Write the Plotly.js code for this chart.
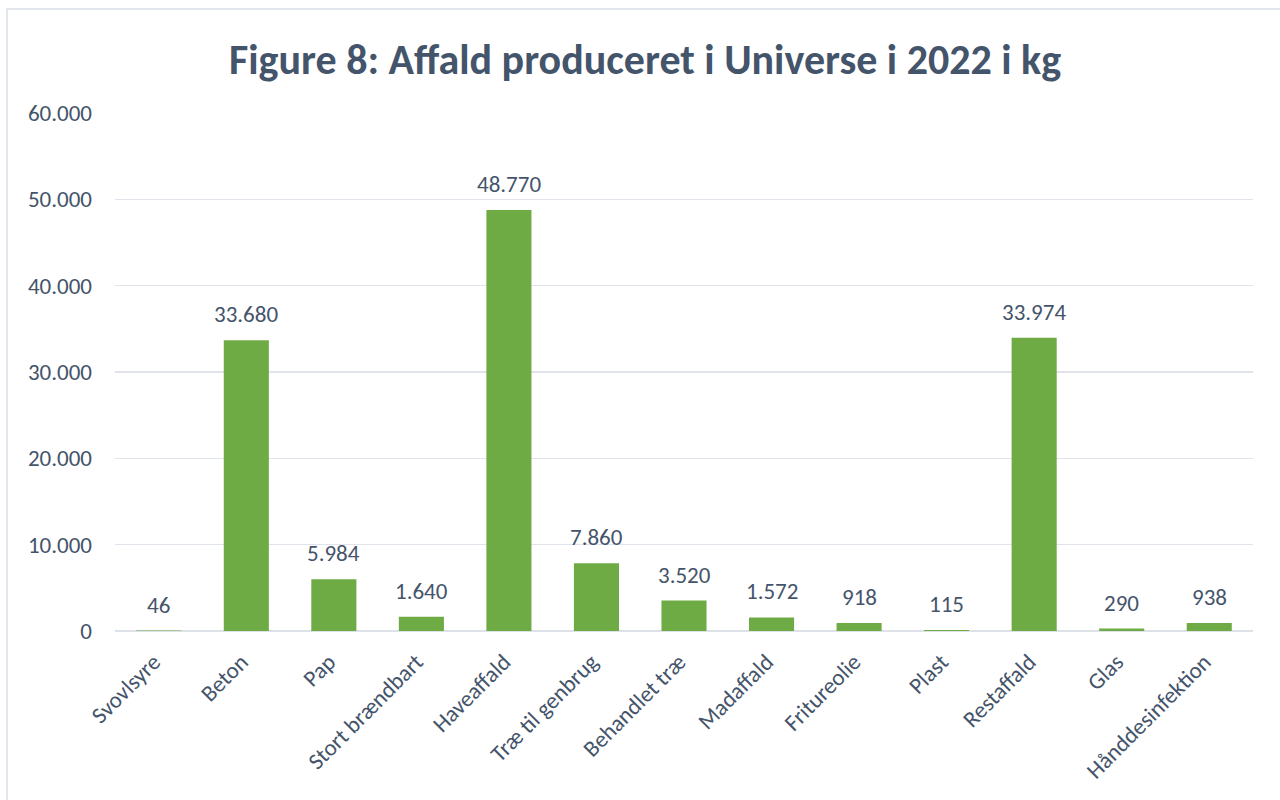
<!DOCTYPE html>
<html>
<head>
<meta charset="utf-8">
<script src="https://cdn.plot.ly/plotly-3.0.1.min.js"></script>
<style>
  html, body { margin: 0; padding: 0; background: #fff; }
  #wrap { position: relative; width: 1280px; height: 800px; overflow: hidden; }
  #frame { position: absolute; left: 6px; top: 8px; width: 1300px; height: 820px;
           border-left: 2px solid #e2e6ec; border-top: 2px solid #e2e6ec; pointer-events: none; }
  #chart { position: absolute; left: 0; top: 0; width: 1280px; height: 800px; }
</style>
</head>
<body>
<div id="wrap">
  <div id="chart"></div>
  <div id="frame"></div>
</div>
<script>
const categories = ["Svovlsyre", "Beton", "Pap", "Stort brændbart", "Haveaffald",
  "Træ til genbrug", "Behandlet træ", "Madaffald", "Fritureolie", "Plast",
  "Restaffald", "Glas", "Hånddesinfektion"];
const values = [46, 33680, 5984, 1640, 48770, 7860, 3520, 1572, 918, 115, 33974, 290, 938];
const titleText = "Figure 8: Affald produceret i Universe i 2022 i kg";

const textColor = "#44546a";
const fontFam = "Carlito, Calibri, Lato, sans-serif";

function fmt(v) {
  return String(v).replace(/\B(?=(\d{3})+(?!\d))/g, ".");
}

const trace = {
  type: "bar",
  x: categories,
  y: values,
  marker: { color: "#6fab45" },
  hoverinfo: "x+y"
};

const labels = categories.map((c, i) => ({
  x: c,
  y: values[i],
  xref: "x",
  yref: "y",
  text: fmt(values[i]),
  showarrow: false,
  yanchor: "bottom",
  yshift: 10,
  font: { family: fontFam, size: 23, color: textColor }
}));

const layout = {
  width: 1280,
  height: 800,
  margin: { l: 115, r: 27, t: 113, b: 169 },
  paper_bgcolor: "rgba(0,0,0,0)",
  plot_bgcolor: "rgba(0,0,0,0)",
  separators: ",.",
  showlegend: false,
  bargap: 0.485,
  annotations: labels,
  title: {
    text: "<b>" + titleText + "</b>",
    font: { family: fontFam, size: 42, color: textColor },
    x: 0.504, xanchor: "center",
    y: 0.926, yanchor: "middle"
  },
  xaxis: {
    type: "category",
    tickangle: -45,
    tickfont: { family: fontFam, size: 23, color: textColor },
    showgrid: false,
    showline: false,
    ticks: "",
    zeroline: false,
    ticklabelstandoff: 12,
    ticklabelshift: -5
  },
  yaxis: {
    range: [0, 60000],
    dtick: 10000,
    tickformat: ",d",
    tickfont: { family: fontFam, size: 23, color: textColor },
    showgrid: true,
    gridcolor: "#e0e4ea",
    gridwidth: 1.5,
    zeroline: true,
    zerolinecolor: "#dde2e8",
    zerolinewidth: 2,
    showline: false,
    ticks: "",
    ticklabelstandoff: 22
  }
};

Plotly.newPlot("chart", [trace], layout, { displayModeBar: false, staticPlot: true });
</script>
</body>
</html>
